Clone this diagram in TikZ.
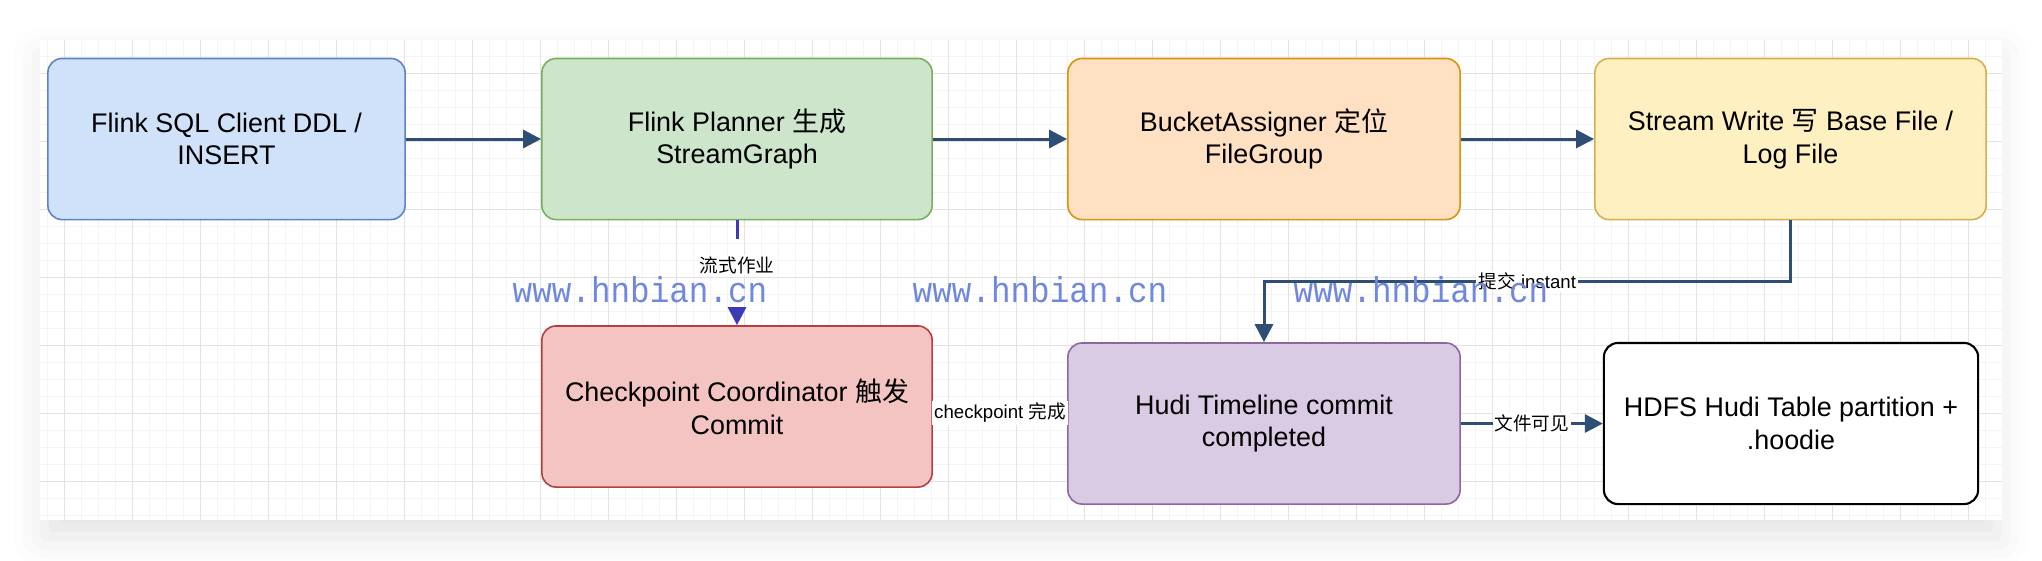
\documentclass[tikz,border=0pt]{standalone}
\usepackage{fontspec}
\setmainfont{Liberation Sans}
\newfontfamily\cjk{Noto Sans CJK SC}
\newfontfamily\wmfont[FakeStretch=0.91]{Liberation Mono}
\usetikzlibrary{arrows.meta,shadows.blur}

\definecolor{flowc}{RGB}{46,78,118}
\definecolor{jobc}{RGB}{59,59,184}
\definecolor{wmc}{RGB}{111,136,222}
\definecolor{gridfc}{RGB}{244,244,244}
\definecolor{gridmc}{RGB}{226,226,226}
\definecolor{bluef}{RGB}{208,226,250}   \definecolor{blued}{RGB}{95,131,191}
\definecolor{greenf}{RGB}{205,229,203}  \definecolor{greend}{RGB}{120,176,90}
\definecolor{orangef}{RGB}{255,224,194} \definecolor{oranged}{RGB}{217,147,11}
\definecolor{yellowf}{RGB}{255,240,194} \definecolor{yellowd}{RGB}{212,176,74}
\definecolor{redf}{RGB}{244,196,195}    \definecolor{redd}{RGB}{179,64,63}
\definecolor{purplef}{RGB}{217,203,227} \definecolor{purpled}{RGB}{143,101,163}

\begin{document}
\begin{tikzpicture}[
  x=0.01cm,y=-0.01cm,
  % One unit is one pixel of the screenshot, y runs downwards.
  box/.style={draw,rounded corners=4pt,line width=0.45pt,inner sep=0pt,
    align=center,font=\fontsize{7.65pt}{9.3pt}\selectfont,minimum height=1.61cm},
  flow/.style={-{Triangle[length=5.1pt,width=5.1pt]},line width=0.85pt,draw=flowc},
  lbl/.style={fill=white,inner sep=0.6pt,font=\fontsize{5.3pt}{6pt}\selectfont},
  wmark/.style={anchor=base west,inner sep=0pt,text=wmc,
    font=\wmfont\fontsize{10.2pt}{11pt}\selectfont},
  gridfine/.style={draw=gridfc,line width=0.28pt},
  gridmajor/.style={draw=gridmc,line width=0.28pt},
]

%--- geometry ----------------------------------------------------------------
\def\canL{40}          % left edge of the canvas
\def\canR{2002}        % right edge of the canvas
\def\canT{40}          % top edge of the canvas
\def\canB{520}         % bottom edge of the canvas
\def\rowA{139}         % centre line of the upper row
\def\rowB{406.5}       % centre of the checkpoint box
\def\rowC{423.5}       % centre line of the lower right boxes
\def\wmy{302}          % baseline of the watermarks

\useasboundingbox (0,0) rectangle (2042,560);

%--- canvas and grid ---------------------------------------------------------
\fill[white,blur shadow={shadow xshift=0pt,shadow yshift=-5pt,shadow scale=0.995,
  shadow blur radius=9pt,shadow opacity=11}] (\canL,\canT) rectangle (\canR,\canB);

\begin{scope}
  \clip (\canL,\canT) rectangle (\canR,\canB);
  \foreach \gx in {30.5,47.5,...,2010} \draw[gridfine] (\gx,\canT) -- (\gx,\canB);
  \foreach \gy in {39,56,...,525} \draw[gridfine] (\canL,\gy) -- (\canR,\gy);
  \foreach \gx in {64.5,132.5,...,2010} \draw[gridmajor] (\gx,\canT) -- (\gx,\canB);
  \foreach \gy in {73,141,...,525} \draw[gridmajor] (\canL,\gy) -- (\canR,\gy);
\end{scope}

%--- upper row: from the SQL client to the writer ----------------------------
\node[box,fill=bluef,draw=blued,minimum width=3.57cm] (sqlclient) at (226.5,\rowA)
  {Flink SQL Client DDL /\\INSERT};
\node[box,fill=greenf,draw=greend,minimum width=3.9cm] (planner) at (737,\rowA)
  {Flink Planner {\cjk 生成}\\StreamGraph};
\node[box,fill=orangef,draw=oranged,minimum width=3.92cm] (bucket) at (1264,\rowA)
  {BucketAssigner {\cjk 定位}\\FileGroup};
\node[box,fill=yellowf,draw=yellowd,minimum width=3.91cm] (writer) at (1790.5,\rowA)
  {Stream Write {\cjk 写} Base File /\\Log File};

%--- lower row: checkpoint, commit, visible files ----------------------------
\node[box,fill=redf,draw=redd,minimum width=3.9cm] (ckpt) at (737,\rowB)
  {Checkpoint Coordinator {\cjk 触发}\\Commit};
\node[box,fill=purplef,draw=purpled,minimum width=3.92cm] (timeline) at (1264,\rowC)
  {Hudi Timeline commit\\completed};
\node[box,fill=white,draw=black,line width=0.6pt,minimum width=3.74cm] (hdfs) at (1791,\rowC)
  {HDFS Hudi Table partition +\\.hoodie};

%--- connectors --------------------------------------------------------------
\draw[flow] (sqlclient) -- (planner);
\draw[flow] (planner) -- (bucket);
\draw[flow] (bucket) -- (writer);

% The job hand-over is drawn in its own colour, broken under its label.
\draw[flow,draw=jobc,dash pattern=on 5.4pt off 19.3pt] (planner.south) -- (ckpt.north)
  node[lbl,pos=0.43] {\cjk 流式作业};

\draw[flow] (writer.south) -- ++(0,61) -| (timeline.north)
  node[lbl,pos=0.25] {{\cjk 提交} instant};

\coordinate (ckline) at (0,413);
\draw[flow] (ckpt.east |- ckline) -- (timeline.west |- ckline)
  node[lbl,midway] {checkpoint {\cjk 完成}};

\draw[flow] (timeline) -- (hdfs)
  node[lbl,midway] {\cjk 文件可见};

%--- watermarks --------------------------------------------------------------
\node[wmark] (wm1) at (512,\wmy) {www.hnbian.cn};
\node[wmark] (wm2) at (912,\wmy) {www.hnbian.cn};
\node[wmark] (wm3) at (1293,\wmy) {www.hnbian.cn};

\end{tikzpicture}
\end{document}
